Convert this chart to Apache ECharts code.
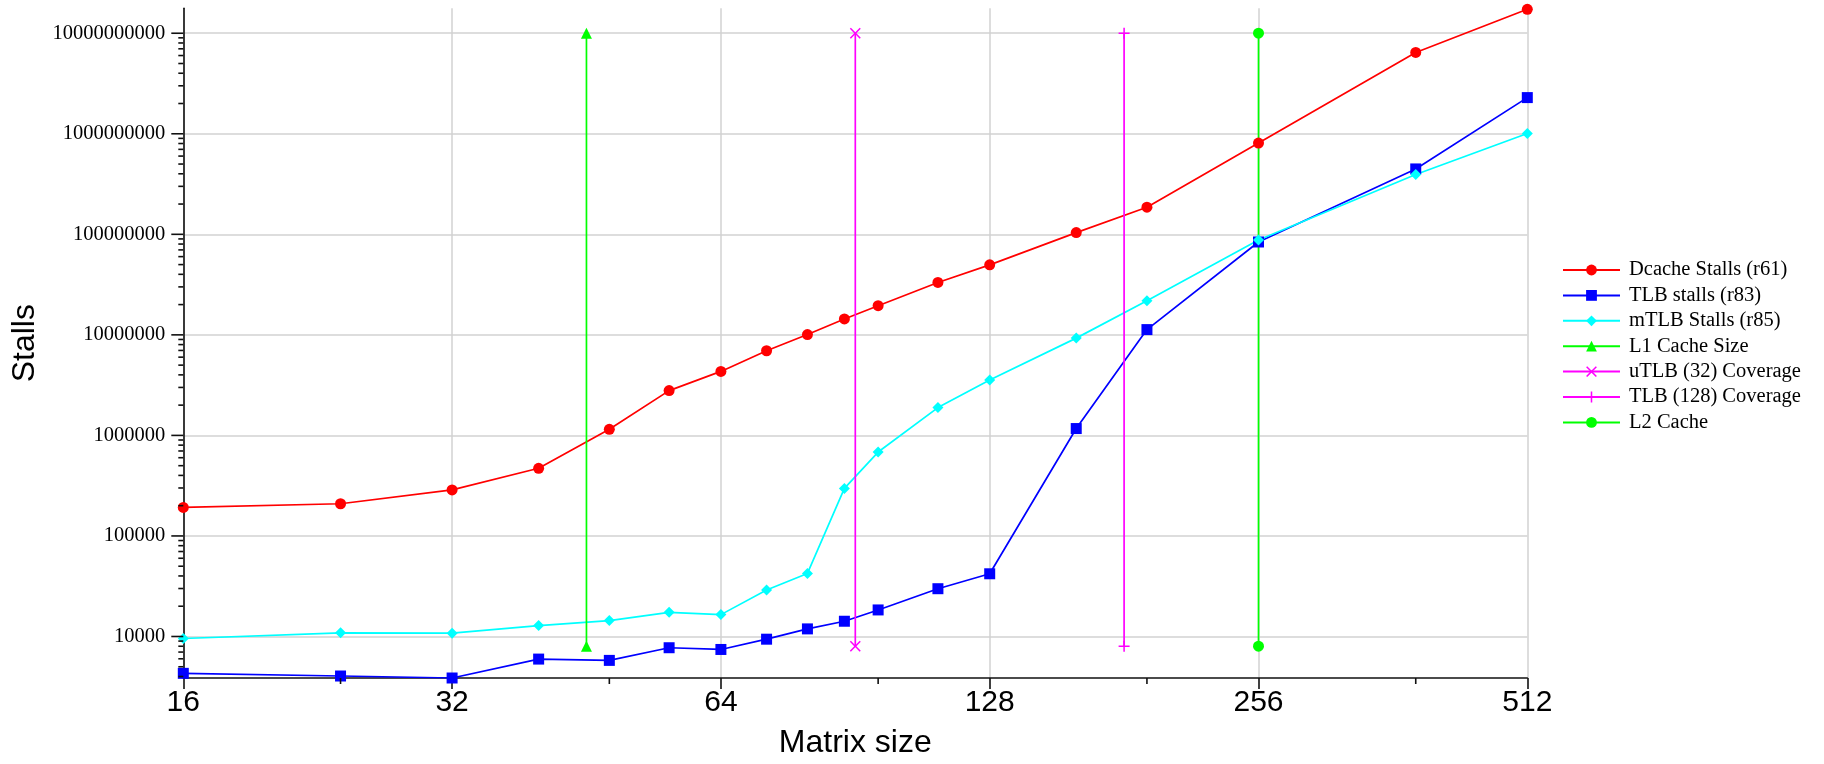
<!DOCTYPE html>
<html><head><meta charset="utf-8">
<script src="https://cdn.jsdelivr.net/npm/echarts@6/dist/echarts.min.js"></script>
<style>html,body{margin:0;padding:0;background:#fff}#chart{width:1824px;height:764px}</style>
</head><body><div id="chart"></div>
<script>
// ---- data ----
const matrixSizes  = [16, 24, 32, 40, 48, 56, 64, 72, 80, 88, 96, 112, 128, 160, 192, 256, 384, 512];
const dcacheStalls = [1.92e5, 2.09e5, 2.87e5, 4.71e5, 1.15e6, 2.79e6, 4.33e6, 6.95e6, 1.007e7, 1.44e7, 1.95e7, 3.32e7, 4.97e7, 1.04e8, 1.86e8, 8.09e8, 6.44e9, 1.73e10];
const tlbStalls    = [4300, 4045, 3865, 5960, 5785, 7730, 7430, 9400, 11900, 14180, 18370, 29870, 42050, 1.17e6, 1.128e7, 8.39e7, 4.47e8, 2.29e9];
const mtlbStalls   = [9550, 10870, 10790, 12850, 14400, 17400, 16500, 29000, 42400, 2.97e5, 6.83e5, 1.89e6, 3.56e6, 9.28e6, 2.19e7, 8.79e7, 3.93e8, 1.007e9];

// vertical reference lines: matrix size and the two stall levels of their end markers
const l1CacheSize  = 45.25;
const utlbCoverage = 90.51;
const tlbCoverage  = 181.02;
const l2Cache      = 256;
const refLineSpan  = [8000, 1e10];

const seriesNames = ['Dcache Stalls (r61)', 'TLB stalls (r83)', 'mTLB Stalls (r85)', 'L1 Cache Size', 'uTLB (32) Coverage', 'TLB (128) Coverage', 'L2 Cache'];

// axes
const xRange = [16, 512];
const yRange = [3865, 1.77e10];
const xMinorTicks = [24, 48, 96, 192, 384];
const yMajorTicks = [1e4, 1e5, 1e6, 1e7, 1e8, 1e9, 1e10];
const yMinorMantissas = [2, 3, 4, 5, 6, 7, 8, 9];
const yMinorDecades = [1e3, 1e4, 1e5, 1e6, 1e7, 1e8, 1e9, 1e10];

// ---- build ----
const yMinorTicks = [];
yMinorDecades.forEach(d => yMinorMantissas.forEach(m => {
  const v = d * m;
  if (v >= yRange[0] && v <= yRange[1]) yMinorTicks.push(v);
}));

const pairs = arr => matrixSizes.map((x, i) => [x, arr[i]]);
const vline = x => refLineSpan.map(y => [x, y]);

const crossPath = 'path://M0,1L1,0L5,4L9,0L10,1L6,5L10,9L9,10L5,6L1,10L0,9L4,5Z';
const plusPath  = 'path://M4.3,0H5.7V4.3H10V5.7H5.7V10H4.3V5.7H0V4.3H4.3Z';

function lineSeries(name, data, color, symbol, size) {
  return {
    name, type: 'line', data, symbol, symbolSize: size,
    lineStyle: { color, width: 1.7 },
    itemStyle: { color },
    emphasis: { disabled: true },
    z: 3
  };
}

const yTickData = yMajorTicks.map(v => [xRange[0], v, 12]).concat(yMinorTicks.map(v => [xRange[0], v, 5]));
const xTickData = xMinorTicks.map(v => [v, yRange[0], 6]);

const LW = 1.6;
const GRID = { color: '#d2d2d2', width: 1.5 };
const option = {
  animation: false,
  grid: { left: 183.3, right: 296.7, top: 8.3, bottom: 83.3 },
  xAxis: {
    type: 'log', logBase: 2, min: xRange[0], max: xRange[1], interval: 1,
    name: 'Matrix size', nameLocation: 'middle', nameGap: 49,
    nameTextStyle: { fontFamily: 'Liberation Sans', fontSize: 32, color: '#000' },
    axisLine: { show: true, lineStyle: { color: '#111', width: LW } },
    axisTick: { show: true, length: 11, lineStyle: { color: '#111', width: LW } },
    axisLabel: { fontFamily: 'Liberation Sans', fontSize: 30, color: '#000', margin: 10,
      formatter: v => String(Math.round(v)) },
    splitLine: { show: true, lineStyle: GRID },
    minorTick: { show: false }
  },
  yAxis: {
    type: 'log', logBase: 10, min: yRange[0], max: yRange[1], splitNumber: 6,
    name: 'Stalls', nameLocation: 'middle', nameGap: 138,
    nameTextStyle: { fontFamily: 'Liberation Sans', fontSize: 32, color: '#000' },
    axisLine: { show: true, lineStyle: { color: '#111', width: LW } },
    axisTick: { show: false },
    axisLabel: { fontFamily: 'Liberation Serif', fontSize: 20.5, color: '#000', margin: 18,
      showMinLabel: false, showMaxLabel: false,
      formatter: v => {
        const l = Math.log10(v);
        return Math.abs(l - Math.round(l)) < 1e-6 ? String(Math.round(v)) : '';
      } },
    splitLine: { show: true, showMinLine: false, showMaxLine: false, lineStyle: GRID }
  },
  legend: {
    data: seriesNames, orient: 'vertical', left: 1562, top: 259.5, padding: 0,
    itemWidth: 57, itemHeight: 13.5, itemGap: 4.4, selectedMode: false,
    textStyle: { fontFamily: 'Liberation Serif', fontSize: 20.5, color: '#000', padding: [0, 0, 0, 4] }
  },
  series: [
    lineSeries(seriesNames[0], pairs(dcacheStalls), '#ff0000', 'circle', 11),
    lineSeries(seriesNames[1], pairs(tlbStalls), '#0000ff', 'rect', 11),
    lineSeries(seriesNames[2], pairs(mtlbStalls), '#00ffff', 'diamond', 11),
    lineSeries(seriesNames[3], vline(l1CacheSize), '#00ff00', 'triangle', 11),
    lineSeries(seriesNames[4], vline(utlbCoverage), '#ff00ff', crossPath, 11),
    lineSeries(seriesNames[5], vline(tlbCoverage), '#ff00ff', plusPath, 11),
    lineSeries(seriesNames[6], vline(l2Cache), '#00ff00', 'circle', 11),
    {
      type: 'custom', clip: false, silent: true, z: 5,
      data: yTickData,
      renderItem: (params, api) => {
        const p = api.coord([api.value(0), api.value(1)]);
        const len = api.value(2);
        return { type: 'line', shape: { x1: p[0] - len, y1: p[1], x2: p[0], y2: p[1] },
          style: { stroke: '#111', lineWidth: LW } };
      }
    },
    {
      type: 'custom', clip: false, silent: true, z: 5,
      data: xTickData,
      renderItem: (params, api) => {
        const p = api.coord([api.value(0), api.value(1)]);
        const len = api.value(2);
        return { type: 'line', shape: { x1: p[0], y1: p[1], x2: p[0], y2: p[1] + len },
          style: { stroke: '#111', lineWidth: LW } };
      }
    }
  ]
};
const chart = echarts.init(document.getElementById('chart'), null, { renderer: 'canvas' });
chart.setOption(option);
</script>
</body></html>
